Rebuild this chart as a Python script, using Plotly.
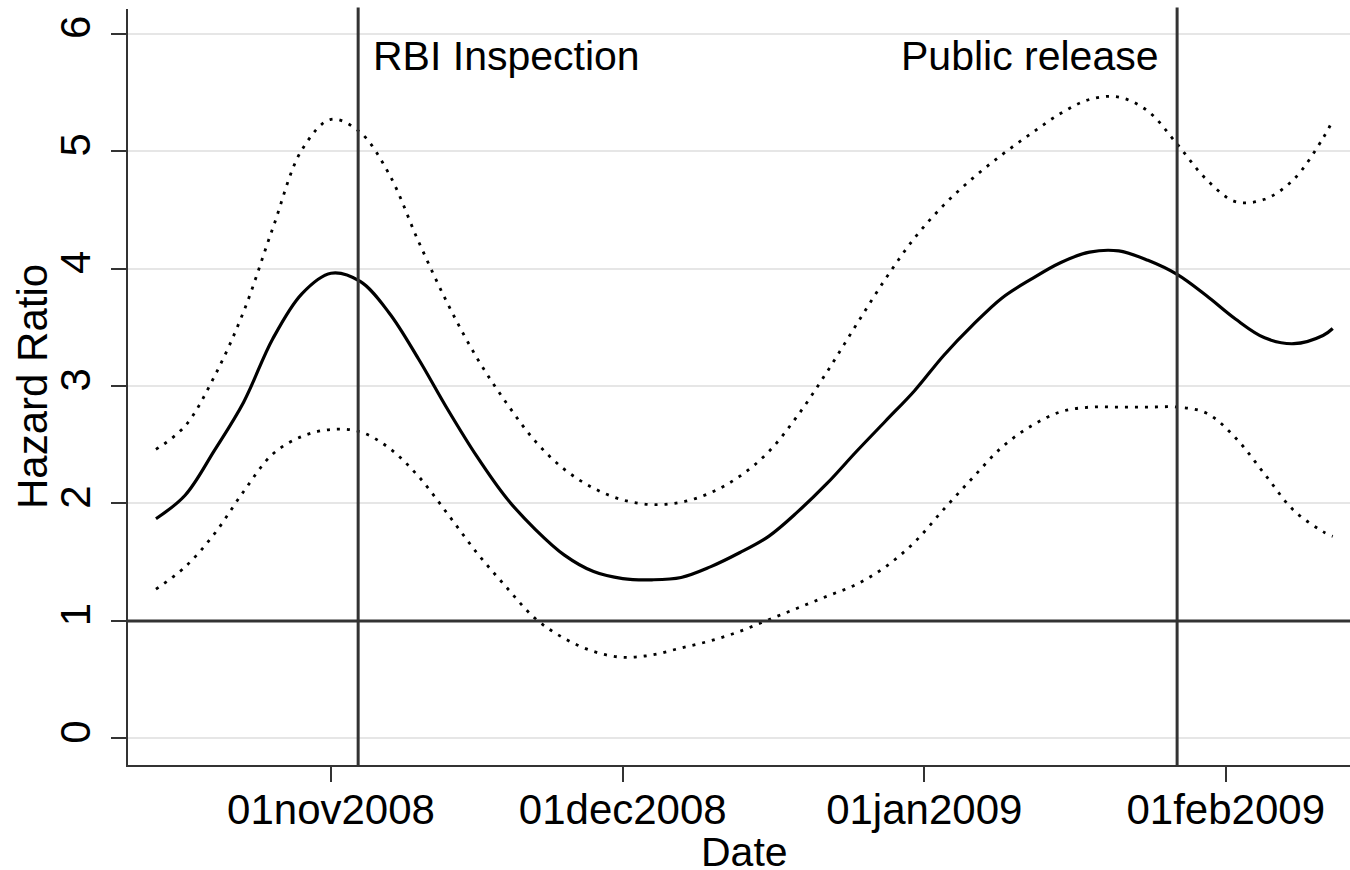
import plotly.graph_objects as go

dates = ["2008-10-14", "2008-10-17", "2008-10-20", "2008-10-23", "2008-10-26", "2008-10-29",
         "2008-11-01", "2008-11-04", "2008-11-07", "2008-11-10", "2008-11-13", "2008-11-16",
         "2008-11-19", "2008-11-22", "2008-11-25", "2008-11-28", "2008-12-01", "2008-12-04",
         "2008-12-07", "2008-12-10", "2008-12-13", "2008-12-16", "2008-12-19", "2008-12-22",
         "2008-12-25", "2008-12-28", "2008-12-31", "2009-01-03", "2009-01-06", "2009-01-09",
         "2009-01-12", "2009-01-15", "2009-01-18", "2009-01-21", "2009-01-24", "2009-01-27",
         "2009-01-30", "2009-02-02", "2009-02-05", "2009-02-08", "2009-02-11", "2009-02-12"]

hazard = [1.87, 2.07, 2.45, 2.86, 3.40, 3.785, 3.96, 3.89, 3.62, 3.23, 2.80, 2.40,
          2.05, 1.78, 1.56, 1.42, 1.36, 1.35, 1.37, 1.46, 1.58, 1.72, 1.93, 2.17,
          2.44, 2.70, 2.96, 3.26, 3.52, 3.75, 3.91, 4.05, 4.14, 4.15, 4.07, 3.95,
          3.77, 3.57, 3.41, 3.36, 3.43, 3.49]

upper = [2.46, 2.66, 3.08, 3.63, 4.34, 5.01, 5.27, 5.16, 4.80, 4.23, 3.70, 3.24,
         2.86, 2.53, 2.29, 2.13, 2.03, 1.99, 2.01, 2.09, 2.23, 2.44, 2.75, 3.12,
         3.52, 3.91, 4.26, 4.54, 4.77, 4.97, 5.15, 5.32, 5.44, 5.46, 5.34, 5.06,
         4.76, 4.57, 4.59, 4.76, 5.11, 5.26]

lower = [1.27, 1.46, 1.74, 2.10, 2.42, 2.57, 2.63, 2.61, 2.47, 2.23, 1.91, 1.58,
         1.29, 1.02, 0.85, 0.74, 0.69, 0.71, 0.77, 0.83, 0.91, 1.01, 1.11, 1.21,
         1.31, 1.46, 1.67, 1.95, 2.22, 2.48, 2.66, 2.78, 2.82, 2.82, 2.82, 2.82,
         2.77, 2.56, 2.25, 1.94, 1.76, 1.72]

tick_dates = ["2008-11-01", "2008-12-01", "2009-01-01", "2009-02-01"]
tick_labels = ["01nov2008", "01dec2008", "01jan2009", "01feb2009"]
y_ticks = [0, 1, 2, 3, 4, 5, 6]

events = [("2008-11-03 19:00", "RBI Inspection", "left"),
          ("2009-01-27 00:00", "Public release", "right")]
ref_value = 1

FONT = "Liberation Sans, Arial, sans-serif"
DARK = "#333333"

fig = go.Figure()
fig.add_trace(go.Scatter(x=dates, y=upper, mode="lines",
                         line=dict(color="black", width=2.8, dash="3px,7px", shape="spline"),
                         showlegend=False, hoverinfo="skip"))
fig.add_trace(go.Scatter(x=dates, y=lower, mode="lines",
                         line=dict(color="black", width=2.8, dash="3px,7px", shape="spline"),
                         showlegend=False, hoverinfo="skip"))
fig.add_trace(go.Scatter(x=dates, y=hazard, mode="lines",
                         line=dict(color="black", width=3.2, shape="spline"),
                         showlegend=False, hoverinfo="skip"))

# reference line at HR = 1
fig.add_shape(type="line", xref="paper", yref="y", x0=0, x1=1, y0=ref_value, y1=ref_value,
              line=dict(color=DARK, width=3), layer="above")

for d, label, side in events:
    fig.add_shape(type="line", xref="x", yref="paper", x0=d, x1=d, y0=0, y1=1.002,
                  line=dict(color=DARK, width=3), layer="above")
    fig.add_annotation(x=d, y=5.81, xref="x", yref="y", text=label, showarrow=False,
                       xanchor="left" if side == "left" else "right",
                       xshift=13 if side == "left" else -16, yanchor="middle",
                       font=dict(family=FONT, size=41, color="black"))

# axis titles
fig.add_annotation(x=0, y=0.5, xref="paper", yref="paper", text="Hazard Ratio",
                   textangle=-90, showarrow=False, xanchor="center", yanchor="middle",
                   xshift=-96, font=dict(family=FONT, size=42, color="black"))
fig.add_annotation(x=0.5, y=0, xref="paper", yref="paper", text="Date",
                   showarrow=False, xanchor="center", yanchor="middle",
                   xshift=5, yshift=-87, font=dict(family=FONT, size=41, color="black"))

fig.update_layout(
    width=1350, height=870,
    margin=dict(l=128, r=0, t=9, b=105),
    paper_bgcolor="white", plot_bgcolor="white",
    font=dict(family=FONT, size=41, color="black"),
    showlegend=False,
)
fig.update_xaxes(
    type="date", automargin=False,
    range=["2008-10-11 03:00", "2009-02-13 18:40"],
    tickmode="array", tickvals=tick_dates, ticktext=tick_labels,
    ticks="outside", ticklen=15, tickwidth=2, tickcolor=DARK,
    ticklabelstandoff=-8,
    showline=True, linecolor=DARK, linewidth=2,
    showgrid=False, zeroline=False,
    tickfont=dict(family=FONT, size=42, color="black"),
)
fig.update_yaxes(
    automargin=False,
    range=[-0.227, 6.21],
    tickmode="array", tickvals=y_ticks, ticktext=[str(v) for v in y_ticks],
    tickangle=-90,
    ticks="outside", ticklen=15, tickwidth=2, tickcolor=DARK,
    ticklabelstandoff=4,
    showline=True, linecolor=DARK, linewidth=2,
    showgrid=True, gridcolor="#e6e6e6", gridwidth=2, zeroline=False,
    tickfont=dict(family=FONT, size=42, color="black"),
)

fig.write_html("out.html", config={"displayModeBar": False},
               post_script="document.body.style.margin='0';document.body.style.padding='0';")
